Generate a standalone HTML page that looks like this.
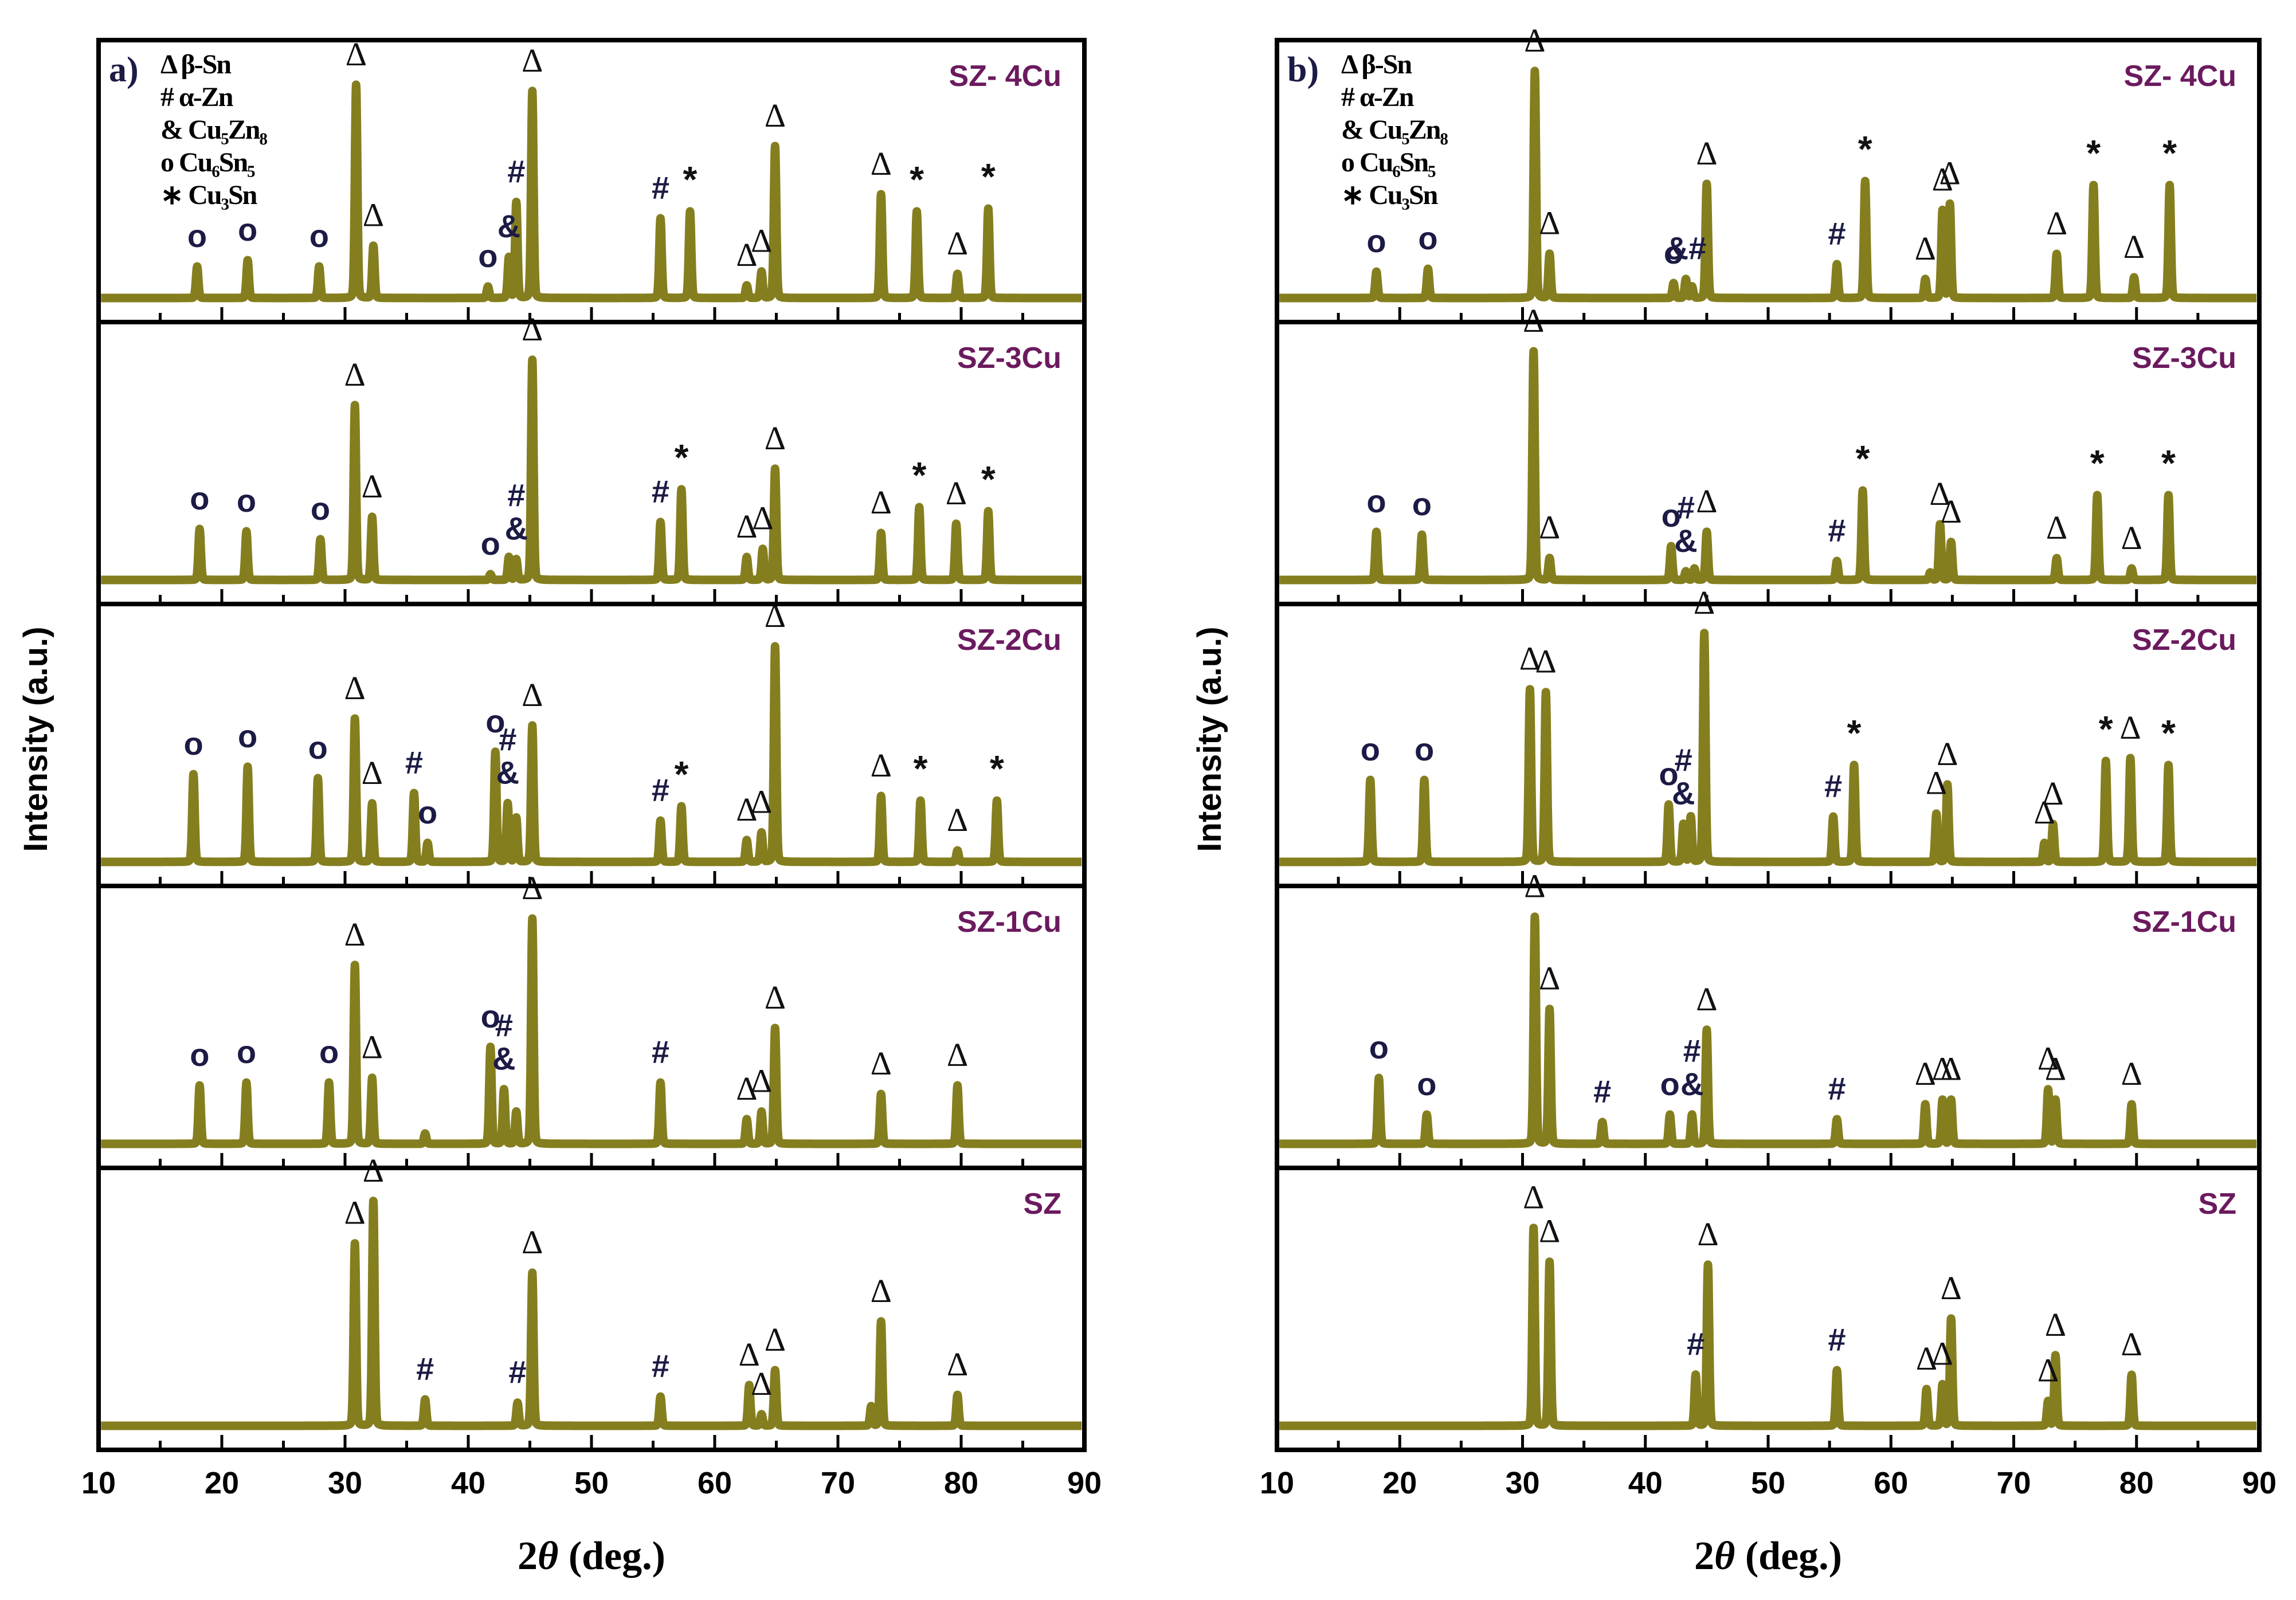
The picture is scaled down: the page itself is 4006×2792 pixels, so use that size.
<!DOCTYPE html>
<html><head><meta charset="utf-8"><style>
html,body{margin:0;padding:0;background:#fff;}
svg{display:block;}
</style></head><body>
<svg id="fig" width="4006" height="2792" viewBox="0 0 4006 2792" xmlns="http://www.w3.org/2000/svg">
<rect x="0" y="0" width="4006" height="2792" fill="#fff"/>
</svg>
<script>
// ---- data: peak positions (2θ), intensities (a.u.), labels ----
const tickLabels = [10,20,30,40,50,60,70,80,90];
const sampleNames = ["SZ- 4Cu","SZ-3Cu","SZ-2Cu","SZ-1Cu","SZ"];
const sampleNamesB = ["SZ- 4Cu","SZ-3Cu","SZ-2Cu","SZ-1Cu","SZ"];
const legendItems = ["Δ β-Sn","# α-Zn","& Cu₅Zn₈","o Cu₆Sn₅","∗ Cu₃Sn"];

const a4Pos = [18.0,22.1,27.9,30.9,32.3,41.6,43.3,43.9,45.2,55.6,58.0,62.6,63.8,64.9,73.5,76.4,79.7,82.2];
const a4Int = [55,66,55,372,91,20,71,167,361,139,151,22,46,265,181,151,42,156];
const a4Lab = ["o","o","o","Δ","Δ","o","&","#","Δ","#","*","Δ","Δ","Δ","Δ","*","Δ","*"];

const a3Pos = [18.2,22.0,28.0,30.8,32.2,41.8,43.3,43.9,45.2,55.6,57.3,62.6,63.9,64.9,73.5,76.6,79.6,82.2];
const a3Int = [89,85,71,305,110,10,40,36,384,101,158,40,54,194,82,127,98,120];
const a3Lab = ["o","o","o","Δ","Δ","o","","#|&","Δ","#","*","Δ","Δ","Δ","Δ","*","Δ","*"];

const a2Pos = [17.7,22.1,27.8,30.8,32.2,35.6,36.7,42.2,43.2,43.9,45.2,55.6,57.3,62.6,63.8,64.9,73.5,76.7,79.7,82.9];
const a2Int = [153,166,146,250,102,120,33,192,102,77,238,72,97,38,51,376,115,107,20,107];
const a2Lab = ["o","o","o","Δ","Δ","#","o","o","#|&","","Δ","#","*","Δ","Δ","Δ","Δ","*","Δ","*"];

const a1Pos = [18.2,22.0,28.7,30.8,32.2,36.5,41.8,42.9,43.9,45.2,55.6,62.6,63.8,64.9,73.5,79.7];
const a1Int = [102,107,107,312,115,18,169,95,56,393,107,43,56,202,87,102];
const a1Lab = ["o","o","o","Δ","Δ","","o","#|&","","Δ","#","Δ","Δ","Δ","Δ","Δ"];

const a0Pos = [30.8,32.3,36.5,44.0,45.2,55.6,62.8,63.8,64.9,72.7,73.5,79.7];
const a0Int = [318,392,46,40,267,51,71,20,97,34,182,54];
const a0Lab = ["Δ","Δ","#","#","Δ","#","Δ","Δ","Δ","","Δ","Δ"];

const b4Pos = [18.1,22.3,31.0,32.2,42.3,43.3,43.8,45.0,55.6,57.9,62.8,64.2,64.8,73.5,76.5,79.8,82.7];
const b4Int = [46,51,396,77,26,33,20,199,59,204,33,153,164,77,197,36,197];
const b4Lab = ["o","o","Δ","Δ","o","&#","","Δ","#","*","Δ","Δ","Δ","Δ","*","Δ","*"];

const b3Pos = [18.1,21.8,30.9,32.2,42.1,43.3,44.0,45.0,55.6,57.7,63.2,64.0,64.9,73.5,76.8,79.6,82.6];
const b3Int = [84,79,399,38,59,15,20,84,33,156,13,97,66,38,148,20,148];
const b3Lab = ["o","o","Δ","Δ","o","#|&","","Δ","#","*","","Δ","Δ","Δ","*","Δ","*"];

const b2Pos = [17.6,22.0,30.6,31.9,41.9,43.1,43.7,44.8,55.3,57.0,63.7,64.6,72.5,73.2,77.5,79.5,82.6];
const b2Int = [143,143,301,296,100,66,79,399,79,169,84,135,33,66,176,181,169];
const b2Lab = ["o","o","Δ","Δ","o","#|&","","Δ","#","*","Δ","Δ","Δ","Δ","*","Δ","*"];

const b1Pos = [18.3,22.2,31.0,32.2,36.5,42.0,43.8,45.0,55.6,62.8,64.2,64.9,72.8,73.4,79.6];
const b1Int = [115,51,396,235,38,51,51,199,43,69,77,77,95,77,69];
const b1Lab = ["o","o","Δ","Δ","#","o","#|&","Δ","#","Δ","Δ","Δ","Δ","Δ","Δ"];

const b0Pos = [30.9,32.2,44.1,45.1,55.6,62.9,64.2,64.9,72.8,73.4,79.6];
const b0Int = [345,286,89,281,97,64,72,187,43,123,89];
const b0Lab = ["Δ","Δ","#","Δ","#","Δ","Δ","Δ","Δ","Δ","Δ"];

const NS = "http://www.w3.org/2000/svg";
const svg = document.getElementById('fig');
function mk(tag, attrs, parent){
  const e = document.createElementNS(NS, tag);
  for (const k in attrs) e.setAttribute(k, attrs[k]);
  (parent||svg).appendChild(e);
  return e;
}
const LINE = "#857e1f";
const PANEL_TOP = 70, PANEL_H = 492;
const SIG = 0.1;
function prof(s, t){
  let h = 0;
  for (let k = 0; k < s.pos.length; k++) {
    const dx = (t - s.pos[k]) / SIG;
    h += s.int[k] * (Math.exp(-0.5*dx*dx)*0.85 + 0.15/(1+dx*dx));
  }
  return h;
}

function drawColumn(prefix, x0, x1, sets, names, legendX, letter, ylabelX){
  const xs = v => x0 + (v-10)/80*(x1-x0);
  const g = mk('g', {});
  
  
  sets.forEach((s, i) => {
    const top = PANEL_TOP + i*PANEL_H, bot = top + PANEL_H;
    const base = bot - 42;
    const ys = h => base - h;
    let d = "";
    for (let t = 10.2; t <= 89.8; t += 0.025) {
      d += (d ? "L" : "M") + xs(t).toFixed(1) + "," + ys(prof(s,t)).toFixed(1);
    }
    const p = mk('path', {d: d, fill: "none", stroke: LINE, "stroke-width": 15, "stroke-linejoin": "round"}, g);
    
    
    s.pos.forEach((pv, k) => {
      const lab = s.lab[k];
      if (!lab) return;
      const h = prof(s, pv);
      const parts = lab.split('|');
      parts.forEach((pt, j) => {
        const yy = ys(h) - 34 - (parts.length-1-j)*58;
        const isDelta = pt === 'Δ';
        const isStar = pt === '*';
        const tx = mk('text', {x: xs(pv), y: yy, "text-anchor": "middle",
          "font-family": isDelta ? '"Liberation Serif", serif' : '"Liberation Sans", sans-serif',
          "font-weight": isDelta ? "normal" : "bold",
          "font-size": isStar ? 64 : (isDelta ? 58 : 56), fill: isDelta||isStar ? "#111" : "#1b1b45"}, g);
        tx.textContent = pt;
        
        
      });
    });
    for (let v = 10; v <= 90; v += 5) {
      const major = v % 10 === 0;
      const tk = mk('line', {x1: xs(v), x2: xs(v), y1: bot, y2: bot - (major ? 26 : 16), stroke: "#000", "stroke-width": 5}, g);
      
      
    }
    if (i > 0) {
      const dv = mk('line', {x1: x0, x2: x1, y1: top, y2: top, stroke: "#000", "stroke-width": 8}, g);
      
      
    }
    const tt = mk('text', {x: x1 - 40, y: top + 80, "text-anchor": "end", "font-family": '"Liberation Sans", sans-serif',
      "font-weight": "bold", "font-size": 52, fill: "#6b1a5e"}, g);
    tt.textContent = names[i];
    
    
  });
  const fr = mk('rect', {x: x0, y: PANEL_TOP, width: x1-x0, height: PANEL_H*5, fill: "none", stroke: "#000", "stroke-width": 8}, g);
  
  
  tickLabels.forEach(v => {
    const tl = mk('text', {x: xs(v), y: PANEL_TOP+PANEL_H*5+76, "text-anchor": "middle", "font-family": '"Liberation Sans", sans-serif',
      "font-weight": "bold", "font-size": 54, fill: "#000"}, g);
    tl.textContent = v;
    
    
  });
  const xt = mk('text', {x: (x0+x1)/2, y: 2738, "text-anchor": "middle", "font-family": '"Liberation Serif", serif',
    "font-weight": "bold", "font-size": 70, fill: "#000"}, g);
  xt.innerHTML = '2<tspan font-style="italic">θ</tspan> (deg.)';
  
  
  const yt = mk('text', {x: ylabelX, y: 1290, "text-anchor": "middle", "font-family": '"Liberation Sans", sans-serif',
    "font-weight": "bold", "font-size": 58, fill: "#000", transform: `rotate(-90 ${ylabelX} 1290)`}, g);
  yt.textContent = "Intensity (a.u.)";
  
  
  const pl = mk('text', {x: x0 + 18, y: 142, "font-family": '"Liberation Serif", serif', "font-weight": "bold", "font-size": 62, fill: "#1b1b45"}, g);
  pl.textContent = letter;
  
  
  legendItems.forEach((it, k) => {
    const lt = mk('text', {x: legendX, y: 128 + k*57, "font-family": '"Liberation Serif", serif', "font-weight": "bold", "font-size": 48, "letter-spacing": -2, fill: "#000"}, g);
    lt.textContent = it;
    
    
  });
}

drawColumn('a', 172, 1892, [
  {pos:a4Pos,int:a4Int,lab:a4Lab},{pos:a3Pos,int:a3Int,lab:a3Lab},{pos:a2Pos,int:a2Int,lab:a2Lab},
  {pos:a1Pos,int:a1Int,lab:a1Lab},{pos:a0Pos,int:a0Int,lab:a0Lab}], sampleNames, 280, "a)", 82);
drawColumn('b', 2228, 3942, [
  {pos:b4Pos,int:b4Int,lab:b4Lab},{pos:b3Pos,int:b3Int,lab:b3Lab},{pos:b2Pos,int:b2Int,lab:b2Lab},
  {pos:b1Pos,int:b1Int,lab:b1Lab},{pos:b0Pos,int:b0Int,lab:b0Lab}], sampleNamesB, 2340, "b)", 2130);
</script>
</body></html>
